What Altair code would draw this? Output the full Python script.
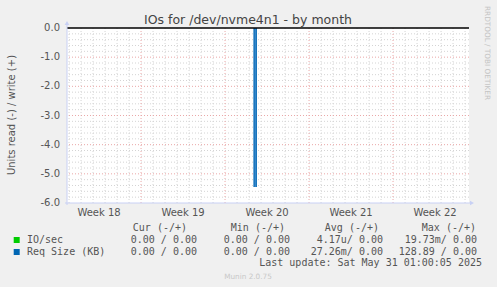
import altair as alt
import pandas as pd

# ---------------- data ----------------
title = "IOs for /dev/nvme4n1 - by month"
y_title = "Units read (-) / write (+)"
week_labels = ["Week 18", "Week 19", "Week 20", "Week 21", "Week 22"]
week_centers = [-3.5, 3.5, 10.5, 17.5, 24.5]      # days relative to Mon May 5 2025
y_ticks = [0.0, -1.0, -2.0, -3.0, -4.0, -5.0, -6.0]
spike_days = [9.42, 9.6]                            # Req Size read spike
spike_read = [-5.45, -5.45]
series = ["IO/sec", "Req Size (KB)"]
series_colors = ["#00cc00", "#0066b3"]
headers = ["Cur (-/+)", "Min (-/+)", "Avg (-/+)", "Max (-/+)"]
cur = ["0.00 / 0.00", "0.00 / 0.00"]
mins = ["0.00 / 0.00", "0.00 / 0.00"]
avgs = ["4.17u/ 0.00", "27.26m/ 0.00"]
maxs = ["19.73m/ 0.00", "128.89 / 0.00"]
last_update = "Last update: Sat May 31 01:00:05 2025"
footer = "Munin 2.0.75"
watermark = "RRDTOOL / TOBI OETIKER"

# ---------------- layout ----------------
W, H = 402, 175
PL, PT = 67, 28
X0, X1 = -6.17, 27.33
xs = alt.Scale(domain=[X0, X1], nice=False, zero=False)
ys = alt.Scale(domain=[-6, 0], nice=False, zero=False)
SANS = "DejaVu Sans"
MONO = "DejaVu Sans Mono"
TXT = "#555555"

minor_x = [d for d in range(-6, 28) if d % 7 != 0]
major_x = [d for d in range(-6, 28) if d % 7 == 0]
minor_y = [-k / 5 for k in range(1, 30) if k % 5 != 0]
major_y = [-float(k) for k in range(1, 6)]

one = pd.DataFrame({"a": [0]})


def vrules(vals, color):
    return alt.Chart(pd.DataFrame({"v": vals})).mark_rule(
        color=color, strokeDash=[1, 2], strokeWidth=1
    ).encode(x=alt.X("v:Q", scale=xs, axis=None))


def hrules(vals, color):
    return alt.Chart(pd.DataFrame({"v": vals})).mark_rule(
        color=color, strokeDash=[1, 2], strokeWidth=1
    ).encode(y=alt.Y("v:Q", scale=ys, axis=None))


def label(txt, x, y, size=10, font=SANS, color=TXT, align="left", angle=0, baseline="alphabetic"):
    return alt.Chart(pd.DataFrame({"t": [txt]})).mark_text(
        font=font, fontSize=size, color=color, align=align, angle=angle, baseline=baseline
    ).encode(x=alt.value(x - PL), y=alt.value(y - PT), text="t:N")


layers = [
    vrules(minor_x, "#d4d4d4"),
    hrules(minor_y, "#d4d4d4"),
    vrules(major_x, "#eaa8a8"),
    hrules(major_y, "#eaa8a8"),
]

# spike (Req Size read)
sp = pd.DataFrame({"x": [spike_days[0]], "x2": [spike_days[1]], "y": [0.0], "y2": [min(spike_read)]})
layers.append(
    alt.Chart(sp).mark_rect(color="#5b9ddb").encode(
        x=alt.X("x:Q", scale=xs, axis=None), x2="x2:Q",
        y=alt.Y("y:Q", scale=ys, axis=None), y2="y2:Q")
)
spl = pd.DataFrame({"x": spike_days, "y": spike_read})
layers.append(
    alt.Chart(spl).mark_rule(color="#0066b3", strokeWidth=1.3).encode(
        x=alt.X("x:Q", scale=xs, axis=None),
        y=alt.Y("y:Q", scale=ys, axis=None), y2=alt.datum(0))
)

# zero line
layers.append(
    alt.Chart(pd.DataFrame({"v": [0.0]})).mark_rule(color="#000000", strokeWidth=1.6).encode(
        y=alt.Y("v:Q", scale=ys, axis=None))
)

# axes lines & arrows
AX = "#c8d0f4"
layers.append(alt.Chart(one).mark_rule(color=AX, strokeWidth=1).encode(
    x=alt.value(0), y=alt.value(-5), y2=alt.value(H + 2)))
layers.append(alt.Chart(one).mark_rule(color=AX, strokeWidth=1).encode(
    y=alt.value(H), x=alt.value(-2), x2=alt.value(W + 2)))
layers.append(alt.Chart(one).mark_point(shape="triangle-up", filled=True, size=22, color=AX, opacity=1).encode(
    x=alt.value(0), y=alt.value(-5)))
layers.append(alt.Chart(one).mark_point(shape="triangle-right", filled=True, size=22, color=AX, opacity=1).encode(
    x=alt.value(W + 3), y=alt.value(H)))

# y tick labels
yl = pd.DataFrame({"v": y_ticks, "t": [f"{v:.1f}" for v in y_ticks]})
layers.append(alt.Chart(yl).mark_text(font=SANS, fontSize=10, color=TXT, align="right", baseline="middle").encode(
    x=alt.value(-7), y=alt.Y("v:Q", scale=ys, axis=None), text="t:N"))

# x week labels
xl = pd.DataFrame({"v": week_centers, "t": week_labels})
layers.append(alt.Chart(xl).mark_text(font=SANS, fontSize=10, color=TXT, align="center", baseline="alphabetic").encode(
    x=alt.X("v:Q", scale=xs, axis=None), y=alt.value(H + 13), text="t:N"))

# title, y title, watermark, footer
layers.append(label(title, 248, 24, size=12.5, color="#444444", align="center"))
layers.append(label(y_title, 12, 115, size=10, align="center", angle=270, baseline="middle"))
layers.append(label(watermark, 487, 53, size=7.3, color="#c4c4c4", align="center", angle=90, baseline="middle"))
layers.append(label(footer, 248, 279, size=7.3, color="#c8c8c8", align="center"))

# legend
head_right = [187, 285, 379, 476]
for h, xr in zip(headers, head_right):
    layers.append(label(h, xr, 231, font=MONO, align="right"))
row_base = [243, 255]
col_right = [197, 290, 383, 477]
for i, name in enumerate(series):
    layers.append(
        alt.Chart(pd.DataFrame({"c": [series_colors[i]]})).mark_square(size=36, filled=True, opacity=1).encode(
            x=alt.value(16.7 - PL), y=alt.value(row_base[i] - 3 - PT), color=alt.Color("c:N", scale=None))
    )
    layers.append(label(name, 27, row_base[i], font=MONO))
    for vals, xr in zip([cur, mins, avgs, maxs], col_right):
        layers.append(label(vals[i], xr, row_base[i], font=MONO, align="right"))
layers.append(label(last_update, 482, 266, font=MONO, align="right"))

chart = alt.layer(*layers).properties(
    width=W, height=H,
    padding={"left": PL, "top": PT, "right": 497 - PL - W, "bottom": 287 - PT - H},
    autosize=alt.AutoSizeParams(type="none"),
    background="#f0f0f0",
).configure_view(fill="white", stroke=None)

chart.save("out.html", embed_options={"renderer": "svg", "actions": False})
